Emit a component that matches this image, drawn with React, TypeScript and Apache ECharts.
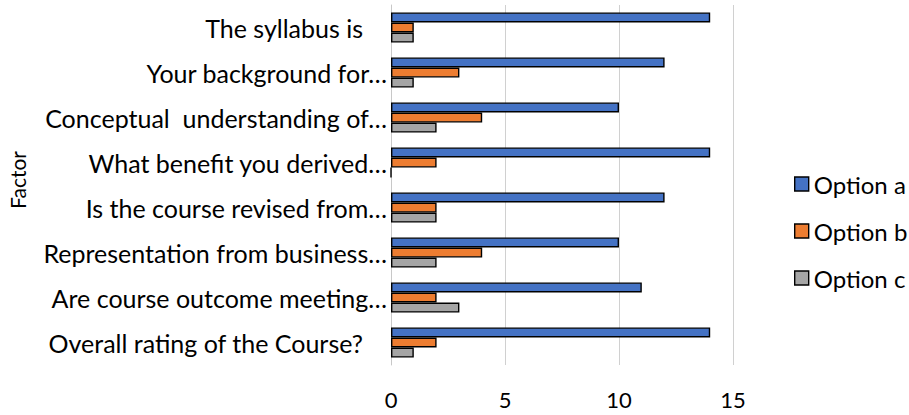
import React, { useEffect, useRef } from "react";
import * as echarts from "echarts";

const categories = [
  "The syllabus is",
  "Your background for…",
  "Conceptual  understanding of…",
  "What benefit you derived…",
  "Is the course revised from…",
  "Representation from business…",
  "Are course outcome meeting…",
  "Overall rating of the Course?",
];
const optionA = [14, 12, 10, 14, 12, 10, 11, 14];
const optionB = [1, 3, 4, 2, 2, 4, 2, 2];
const optionC = [1, 1, 2, 0, 2, 2, 3, 1];
const xTicks = [0, 5, 10, 15];

const FONT = "Lato, 'Open Sans', sans-serif";

export default function App() {
  const ref = useRef<HTMLDivElement>(null);
  useEffect(() => {
    if (!ref.current) return;
    const chart = echarts.init(ref.current, undefined, { renderer: "svg" });
    const cats = [...categories].reverse();
    const rev = (a: number[]) => [...a].reverse();
    const bar = (name: string, data: number[], color: string) => ({
      name,
      type: "bar",
      data: rev(data),
      barGap: "0%",
      barCategoryGap: "33%",
      itemStyle: { color, borderColor: "#000", borderWidth: 1.4 },
    });
    chart.setOption({
      animation: false,
      textStyle: { fontFamily: FONT },
      grid: { left: 391, right: 176, top: 5, bottom: 50, containLabel: false },
      graphic: [
        {
          type: "text",
          x: 17,
          y: 180,
          rotation: Math.PI / 2,
          style: {
            text: "Factor",
            fontSize: 21,
            fontFamily: FONT,
            fill: "#000",
            align: "center",
            verticalAlign: "middle",
          },
        },
      ],
      legend: {
        orient: "vertical",
        left: 789,
        top: 167,
        itemGap: 23,
        itemWidth: 14,
        itemHeight: 14,
        icon: "rect",
        data: ["Option a", "Option b", "Option c"],
        textStyle: { fontSize: 24, lineHeight: 24, color: "#000", fontFamily: FONT },
        itemStyle: { borderColor: "#000", borderWidth: 1.4 },
      },
      xAxis: {
        type: "value",
        min: 0,
        max: 15,
        interval: 5,
        axisLine: { show: false },
        axisTick: { show: false },
        splitLine: { show: true, lineStyle: { color: "#d0d0d0", width: 1 } },
        axisLabel: {
          fontSize: 22,
          color: "#000",
          fontFamily: FONT,
          margin: 23,
          formatter: (v: number) => (xTicks.includes(v) ? String(v) : ""),
        },
      },
      yAxis: {
        type: "category",
        data: cats,
        axisLine: { show: true, lineStyle: { color: "#c8c8c8", width: 1 } },
        axisTick: { show: false },
        axisLabel: {
          color: "#000",
          fontFamily: FONT,
          fontSize: 25,
          margin: 4,
          formatter: (v: string) => (v.endsWith("…") ? `{a|${v}}` : `{b|${v}}`),
          rich: {
            a: { fontSize: 25, fontFamily: FONT, color: "#000" },
            b: { fontSize: 25, fontFamily: FONT, color: "#000", padding: [0, 24, 0, 0] },
          },
        },
      },
      series: [
        bar("Option a", optionA, "#4472C4"),
        bar("Option b", optionB, "#ED7D31"),
        bar("Option c", optionC, "#A5A5A5"),
      ],
    });
    return () => chart.dispose();
  }, []);
  return (
    <div
      ref={ref}
      style={{ position: "fixed", left: 0, top: 0, width: 909, height: 415, background: "#fff" }}
    />
  );
}
